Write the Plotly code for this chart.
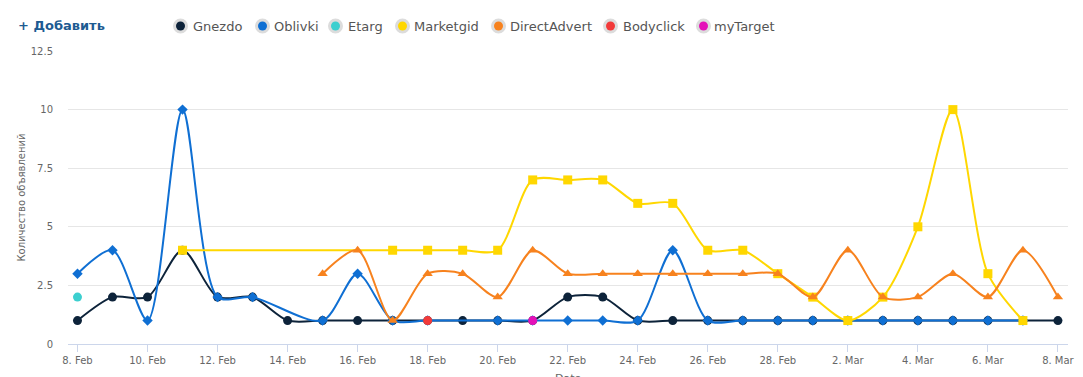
import plotly.graph_objects as go
import pandas as pd

dates = pd.date_range("2015-02-08", "2015-03-08", freq="D")

gnezdo = [1, 2, 2, 4, 2, 2, 1, 1, 1, 1, 1, 1, 1, 1, 2, 2, 1, 1, 1, 1, 1,
          1, 1, 1, 1, 1, 1, 1, 1]
oblivki = [3, 4, 1, 10, 2, 2, None, 1, 3, 1, 1, None, 1, 1, 1, 1, 1, 4, 1, 1, 1,
           1, 1, 1, 1, 1, 1, 1, None]
etarg = [2] + [None] * 28
marketgid = [None, None, None, 4, None, None, None, None, None, 4, 4, 4, 4, 7, 7, 7, 6, 6, 4, 4, 3,
             2, 1, 2, 5, 10, 3, 1, None]
directadvert = [None, None, None, None, None, None, None, 3, 4, 1, 3, 3, 2, 4, 3, 3, 3, 3, 3, 3, 3,
                2, 4, 2, 2, 3, 2, 4, 2]
bodyclick = [None] * 10 + [1] + [None] * 18
mytarget = [None] * 13 + [1] + [None] * 15

series_names = ["Gnezdo", "Oblivki", "Etarg", "Marketgid", "DirectAdvert", "Bodyclick", "myTarget"]
series_values = [gnezdo, oblivki, etarg, marketgid, directadvert, bodyclick, mytarget]
colors = ["#0d233a", "#0f6fd3", "#3ccfcf", "#ffd700", "#f7821e", "#f23a3a", "#e411b8"]
symbols = ["circle", "diamond", "circle", "square", "triangle-up", "circle", "circle"]
sizes = [9, 8, 9, 9, 9, 9, 9]

fig = go.Figure()
for name, vals, col, sym, sz in zip(series_names, series_values, colors, symbols, sizes):
    fig.add_trace(go.Scatter(
        x=dates, y=vals, name=name, mode="lines+markers",
        line=dict(color=col, width=2, shape="spline", smoothing=0.8),
        marker=dict(color=col, symbol=sym, size=sz),
        connectgaps=True, showlegend=False,
    ))

# plot area in pixels
L, R, T, B = 68, 1068, 51, 344
W, H = 1083, 377

def px_x(p):
    return (p - L) / (R - L)

def px_y(p):
    return (B - p) / (B - T)

shapes = []
annotations = []
legend_pos = [(180.5, 191), (262.5, 272), (335.5, 346), (402.5, 412), (498.5, 508), (610.5, 621), (703.5, 712)]
ly = 26
for (cx, tx), name, col in zip(legend_pos, series_names, colors):
    shapes.append(dict(type="circle", xref="paper", yref="paper", xsizemode="pixel", ysizemode="pixel",
                       xanchor=px_x(cx), yanchor=px_y(ly), x0=-7.5, x1=7.5, y0=-7.5, y1=7.5,
                       fillcolor="#dcdcdc", line=dict(width=0), layer="above"))
    shapes.append(dict(type="circle", xref="paper", yref="paper", xsizemode="pixel", ysizemode="pixel",
                       xanchor=px_x(cx), yanchor=px_y(ly), x0=-4.5, x1=4.5, y0=-4.5, y1=4.5,
                       fillcolor=col, line=dict(width=0), layer="above"))
    annotations.append(dict(text=name, xref="paper", yref="paper", x=px_x(tx), y=px_y(ly),
                            xanchor="left", yanchor="middle", showarrow=False,
                            font=dict(family="DejaVu Sans", size=13, color="#555555")))

annotations.append(dict(text="<b>+ Добавить</b>", xref="paper", yref="paper", x=px_x(16), y=px_y(25),
                        xanchor="left", yanchor="middle", showarrow=False,
                        font=dict(family="DejaVu Sans", size=13, color="#1d5b92")))
annotations.append(dict(text="Date", xref="paper", yref="paper", x=0.5, y=px_y(370),
                        xanchor="center", yanchor="top", showarrow=False,
                        font=dict(family="DejaVu Sans", size=11, color="#666666")))
annotations.append(dict(text="Количество объявлений", xref="paper", yref="paper", x=px_x(21), y=0.5,
                        xanchor="center", yanchor="middle", showarrow=False, textangle=-90,
                        font=dict(family="DejaVu Sans", size=10, color="#666666")))

fig.update_layout(
    width=W, height=H,
    margin=dict(l=L, r=W - R, t=T, b=H - B, pad=0, autoexpand=False),
    plot_bgcolor="white", paper_bgcolor="white",
    font=dict(family="DejaVu Sans", size=10, color="#666666"),
    shapes=shapes, annotations=annotations,
    showlegend=False,
)
fig.update_xaxes(
    type="date", automargin=False,
    range=[pd.Timestamp("2015-02-08") - pd.Timedelta(hours=6.5), pd.Timestamp("2015-03-08") + pd.Timedelta(hours=6.9)],
    tick0="2015-02-08", dtick=2 * 86400000, tickformat="%-d. %b",
    showgrid=False, showline=True, linecolor="#ccd6eb", linewidth=1,
    ticks="outside", ticklen=7, tickcolor="#ccd6eb",
    tickfont=dict(family="DejaVu Sans", size=10, color="#666666"),
    zeroline=False,
)
fig.update_yaxes(
    automargin=False,
    range=[0, 12.5], tickvals=[0, 2.5, 5, 7.5, 10, 12.5], ticktext=["0", "2.5", "5", "7.5", "10", "12.5"],
    showgrid=True, gridcolor="#e6e6e6", gridwidth=1, zeroline=False, showline=False,
    ticks="outside", ticklen=12, tickcolor="rgba(0,0,0,0)",
    tickfont=dict(family="DejaVu Sans", size=10, color="#666666"),
)

fig.write_html("out.html", config={"displayModeBar": False},
               post_script="document.body.style.margin='0';document.body.style.overflow='hidden';")
